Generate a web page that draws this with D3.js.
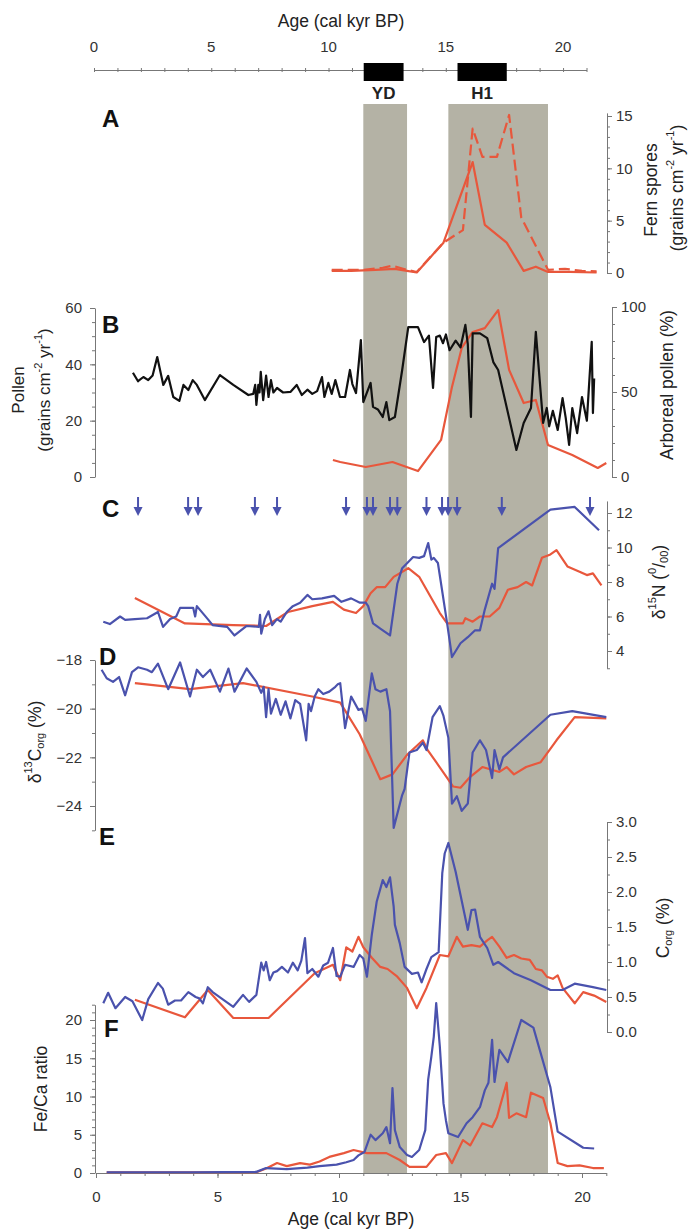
<!DOCTYPE html>
<html>
<head>
<meta charset="utf-8">
<script src="https://cdn.jsdelivr.net/npm/d3@7"></script>
<style>
  body { margin: 0; background: #fff; }
  svg { font-family: "Liberation Sans", Arial, sans-serif; }
  .tick text { fill: #333; font-size: 15px; }
  .domain, .tick line { stroke: #777; }
</style>
</head>
<body>
<div id="chart"></div>
<script>
// ---- data (age in cal kyr BP, value) ----
var fernSolid = [[9.7,0.2],[10.5,0.2],[11.5,0.3],[12.3,0.4],[12.8,0.2],[13.2,0.05],[14.3,2.9],[15.5,10.6],
  [16.0,4.6],[16.9,2.9],[17.6,0.2],[18.1,0.6],[18.6,0.1],[19.5,0.1],[20.6,0.05]];
var fernDashed = [[9.7,0.3],[11.0,0.3],[11.8,0.5],[12.2,0.7],[12.8,0.3],[13.2,0.1],[14.3,2.9],[15.1,4.1],
  [15.5,13.8],[15.9,11.1],[16.5,11.1],[17.0,15.1],[17.5,5.3],[18.6,0.3],[19.3,0.4],[20.0,0.2],[20.6,0.15]];

var pollen = [[1.52,37],[1.73,34],[1.95,35.5],[2.15,34.4],[2.33,36],[2.52,42.6],[2.77,32.7],[2.97,35.9],
  [3.18,28.4],[3.43,27],[3.6,32.7],[3.8,30.9],[3.98,34.4],[4.15,32.7],[4.48,27.3],[5.1,36.2],[5.65,32.7],
  [6.27,29.1],[6.47,29.5],[6.55,32.7],[6.6,25.6],[6.68,32.7],[6.73,30],[6.78,37.3],[6.88,27.3],[7.0,36],
  [7.1,28.4],[7.2,34.4],[7.3,30],[7.45,31.6],[7.7,30],[8.0,30.2],[8.26,32.7],[8.47,29.1],[8.7,31],[8.9,29.5],
  [9.1,30.5],[9.3,35.5],[9.4,28.4],[9.56,33.4],[9.7,29.5],[9.85,34.4],[10.04,28.4],[10.25,28.4],[10.45,38],
  [10.55,33],[10.7,29.8],[10.9,48.6],[11.0,26.6],[11.3,33.4],[11.4,24.9],[11.6,24],[11.8,21.3],[11.95,26.6],
  [12.07,20.2],[12.3,21.3],[12.6,38],[12.85,53.2],[13.25,53.2],[13.5,47.9],[13.7,50.2],[13.87,31.6],
  [14.0,49.7],[14.15,50.2],[14.28,47.5],[14.4,50.6],[14.55,45],[14.8,48.4],[15.0,46],[15.2,54],[15.3,47.3],
  [15.43,21.3],[15.5,51],[15.8,51],[16.1,49.3],[16.35,40.8],[16.55,38],[17.3,9.6],[17.6,19.2],[17.9,24.5],
  [18.1,51.5],[18.4,19.2],[18.55,24.5],[18.65,18],[18.8,23.5],[19.0,16.7],[19.2,28],[19.33,21],[19.47,11.4],
  [19.6,24.5],[19.8,15.6],[20.0,28.4],[20.2,20],[20.4,48],[20.45,22.7],[20.5,35]];
var arboreal = [[9.75,10],[10.05,8.8],[11.1,5.9],[12.2,8.8],[13.25,3.5],[14.2,21.8],[14.65,53],[15.05,75.9],
  [15.5,85.3],[16.0,87.6],[16.55,98.2],[17.0,63],[17.6,43.5],[18.1,45.3],[18.6,18.8],[19.6,12.9],
  [20.65,5.3],[21.0,8.2]];

var datingAges = [1.73,3.79,4.2,6.54,7.45,10.29,11.15,11.4,12.1,12.4,13.6,14.24,14.49,14.86,16.7,20.33];
var n15Blue = [[0.3,5.7],[0.57,5.56],[0.99,6.0],[1.2,5.8],[1.6,5.85],[2.1,5.9],[2.55,6.26],[2.76,5.4],
  [3.05,5.85],[3.3,6.0],[3.46,6.5],[4.0,6.5],[4.08,6.0],[4.15,6.6],[4.6,5.85],[4.8,5.5],[5.4,5.4],[5.7,4.9],
  [6.2,5.45],[6.7,5.4],[6.75,6.1],[6.8,5.0],[6.95,5.85],[7.1,6.3],[7.25,5.5],[7.45,5.85],[7.6,5.7],[7.85,6.26],
  [8.1,6.6],[8.4,6.8],[8.7,7.25],[8.9,7.0],[9.3,7.05],[9.8,7.2],[10.1,6.85],[10.5,7.05],[10.86,6.8],
  [11.1,6.8],[11.2,6.6],[11.4,5.6],[11.7,5.3],[12.1,4.9],[12.25,6.4],[12.4,7.9],[12.6,8.8],[13.05,9.45],
  [13.3,9.4],[13.5,9.5],[13.67,10.26],[13.8,9.3],[13.9,9.4],[14.07,9.1],[14.45,5.6],[14.65,3.65],[15.0,4.45],
  [15.3,4.8],[15.6,5.2],[15.8,5.2],[16.0,6.4],[16.3,7.9],[16.4,7.6],[16.55,9.97],[18.7,12.2],[19.7,12.35],
  [20.7,11.0]];
var n15Red = [[1.6,7.07],[3.66,5.6],[5.65,5.5],[7.0,5.45],[7.9,6.26],[8.9,6.6],[9.75,6.85],[10.2,6.4],
  [10.7,6.2],[11.0,6.6],[11.3,7.35],[11.55,7.7],[11.9,7.7],[12.25,8.3],[12.85,8.8],[13.3,8.3],[14.15,6.2],
  [14.45,5.6],[15.1,5.6],[15.2,5.9],[15.5,5.7],[15.8,6.0],[16.2,6.0],[16.6,6.5],[16.95,7.55],[17.35,7.7],
  [17.7,8.0],[17.95,7.8],[18.35,9.4],[18.7,9.6],[18.95,9.85],[19.4,8.9],[19.9,8.6],[20.2,8.4],[20.45,8.5],
  [20.8,7.8]];

var c13Blue = [[0.23,-18.4],[0.44,-18.75],[0.7,-18.9],[0.95,-18.7],[1.2,-19.45],[1.48,-18.5],[1.73,-18.3],
  [2.1,-18.4],[2.3,-18.5],[2.55,-18.15],[2.97,-19.2],[3.46,-18.1],[3.87,-19.5],[4.15,-18.4],[4.4,-18.7],
  [4.7,-18.4],[5.1,-19.3],[5.45,-18.35],[5.7,-19.3],[6.2,-18.35],[6.6,-18.9],[6.8,-19.35],[6.9,-19.1],
  [7.0,-20.35],[7.1,-19.2],[7.2,-20.2],[7.4,-19.6],[7.6,-20.25],[7.8,-19.7],[8.0,-20.4],[8.2,-19.65],
  [8.4,-19.8],[8.65,-21.3],[8.75,-19.8],[8.85,-20.1],[9.0,-19.5],[9.15,-19.2],[9.35,-19.4],[9.6,-19.3],
  [9.85,-19.1],[9.95,-19.0],[10.05,-18.95],[10.25,-20.8],[10.5,-19.5],[10.8,-20.05],[10.95,-20.0],
  [11.1,-20.5],[11.35,-18.55],[11.5,-19.2],[11.7,-19.3],[11.95,-19.2],[12.1,-20.1],[12.25,-24.9],
  [12.6,-23.55],[12.7,-23.3],[12.9,-21.8],[13.2,-21.7],[13.45,-21.4],[13.6,-21.7],[13.85,-20.35],
  [14.15,-19.9],[14.3,-20.3],[14.5,-21.2],[14.65,-23.9],[14.85,-23.6],[15.05,-24.2],[15.3,-23.9],
  [15.5,-21.8],[15.8,-21.3],[16.05,-21.7],[16.3,-22.85],[16.4,-21.7],[16.6,-22.5],[16.75,-22.0],
  [18.7,-20.25],[19.6,-20.1],[21.0,-20.35]];
var c13Red = [[1.6,-18.95],[3.87,-19.2],[6.05,-18.95],[8.9,-19.5],[10.05,-19.75],[10.85,-21.05],
  [11.7,-22.9],[12.2,-22.7],[12.8,-21.9],[13.45,-21.3],[13.65,-21.7],[14.0,-22.2],[14.7,-23.2],
  [15.0,-23.25],[15.4,-22.8],[15.9,-22.4],[16.6,-22.6],[16.9,-22.4],[17.2,-22.7],[17.7,-22.4],
  [18.3,-22.2],[18.95,-21.3],[19.7,-20.35],[21.0,-20.4]];

var corgBlue = [[0.3,0.41],[0.5,0.56],[0.8,0.34],[1.2,0.5],[1.5,0.44],[1.9,0.17],[2.15,0.47],[2.55,0.7],
  [2.75,0.62],[2.97,0.39],[3.25,0.45],[3.5,0.45],[3.8,0.57],[4.1,0.5],[4.25,0.48],[4.4,0.41],[4.6,0.64],
  [4.8,0.57],[5.65,0.36],[6.05,0.53],[6.3,0.43],[6.6,0.53],[6.8,0.99],[6.9,0.88],[7.0,1.0],[7.15,0.74],
  [7.3,0.85],[7.45,0.87],[7.65,0.93],[7.9,0.85],[8.1,0.99],[8.3,0.88],[8.45,1.02],[8.6,1.34],[8.7,0.84],
  [8.9,0.9],[9.15,0.79],[9.35,0.95],[9.55,0.99],[9.75,1.2],[9.9,0.8],[10.05,0.79],[10.25,0.96],[10.6,0.93],
  [10.85,1.1],[11.0,1.05],[11.15,0.79],[11.35,1.39],[11.55,1.86],[11.8,2.17],[11.95,2.07],[12.1,2.21],
  [12.25,1.79],[12.3,1.53],[12.5,1.27],[12.7,0.93],[13.0,0.83],[13.25,0.85],[13.4,0.71],[13.6,0.9],
  [13.8,1.07],[14.1,1.14],[14.25,2.27],[14.35,2.55],[14.5,2.7],[14.8,2.29],[15.3,1.46],[15.45,1.74],
  [15.6,1.75],[15.8,1.36],[16.1,1.2],[16.35,0.96],[16.55,1.0],[17.2,0.84],[17.9,0.74],[18.7,0.6],
  [19.2,0.6],[19.7,0.69],[20.45,0.64],[21.0,0.6]];
var corgRed = [[1.6,0.46],[3.66,0.21],[4.6,0.6],[5.65,0.2],[7.1,0.2],[9.0,0.84],[9.75,0.96],[10.05,0.74],
  [10.3,1.21],[10.55,1.15],[10.8,1.36],[11.0,1.21],[11.35,1.06],[11.7,0.93],[12.0,0.9],[12.4,0.79],
  [12.8,0.63],[13.2,0.34],[13.6,0.63],[14.15,1.1],[14.5,1.08],[14.85,1.36],[15.1,1.22],[15.45,1.24],
  [15.8,1.22],[16.1,1.31],[16.3,1.36],[16.6,1.22],[16.9,1.06],[17.2,1.1],[17.5,1.05],[17.85,1.03],
  [18.1,0.9],[18.35,0.88],[18.55,0.79],[18.8,0.76],[19.0,0.81],[19.2,0.63],[19.7,0.41],[20.05,0.57],
  [20.5,0.52],[21.0,0.43]];

var fecaBlue = [[0.44,0.1],[2.0,0.1],[4.0,0.1],[6.6,0.15],[7.0,0.65],[7.85,0.5],[8.7,0.7],[9.2,0.9],
  [9.9,1.1],[10.3,1.4],[10.6,1.7],[10.8,2.3],[11.05,2.75],[11.3,5.0],[11.5,4.3],[11.8,5.2],[11.95,6.0],
  [12.1,3.9],[12.2,11.1],[12.3,5.6],[12.5,3.4],[12.8,2.35],[13.0,2.1],[13.3,3.0],[13.55,5.6],[13.67,12.2],
  [13.8,15.2],[13.9,17.8],[14.0,22.2],[14.15,16.5],[14.3,9.1],[14.4,6.9],[14.5,5.2],[14.9,4.7],[15.25,6.5],
  [15.5,7.3],[15.8,8.6],[16.0,10.8],[16.15,11.8],[16.3,17.4],[16.4,11.9],[16.6,16.1],[16.95,14.5],
  [17.5,20.0],[18.0,19.0],[18.7,11.2],[19.0,5.4],[20.05,3.3],[20.5,3.2]];
var fecaRed = [[0.44,0.1],[3.0,0.1],[6.6,0.1],[7.0,0.6],[7.45,1.3],[7.85,0.9],[8.4,1.3],[8.8,1.1],
  [9.2,1.5],[9.6,2.1],[10.2,2.6],[10.6,3.0],[11.15,2.6],[11.95,2.6],[12.5,1.7],[12.9,0.8],[13.6,0.8],
  [14.0,2.35],[14.4,2.6],[14.65,1.3],[15.1,4.3],[15.4,3.6],[15.9,6.5],[16.3,6.0],[16.5,7.3],[16.9,11.8],
  [17.0,7.2],[17.3,7.8],[17.7,7.3],[17.9,10.5],[18.4,9.8],[18.7,6.5],[19.0,1.3],[19.4,0.9],[19.9,1.0],
  [20.45,0.65],[20.9,0.65]];

var ydBand = [11.0, 12.8];
var h1Band = [14.5, 18.6];
var ydBar = [11.5, 13.2];
var h1Bar = [15.5, 17.6];

// ---- layout ----
var svgWidth = 690;
var svgHeight = 1230;
var BLUE = "#4a52ad";
var RED = "#e8573c";
var BAND = "#b4b2a5";
var TITLE = "17.5px";

var svg = d3.select("#chart").append("svg")
  .attr("width", svgWidth)
  .attr("height", svgHeight);

// x scales: the top axis is drawn slightly narrower than the bottom one
var x = d3.scaleLinear().domain([0, 21]).range([96, 606.3]);
var xTop = d3.scaleLinear().domain([0, 21]).range([94, 586.5]);

// y scales
var yA = d3.scaleLinear().domain([0, 15]).range([273, 116]);
var yBl = d3.scaleLinear().domain([0, 60]).range([477, 308]);
var yBr = d3.scaleLinear().domain([0, 100]).range([477, 307]);
var yC = d3.scaleLinear().domain([4, 12]).range([651, 513]);
var yD = d3.scaleLinear().domain([-24, -18]).range([806, 660]);
var yE = d3.scaleLinear().domain([0, 3]).range([1032, 822]);
var yF = d3.scaleLinear().domain([0, 20]).range([1173, 1020]);

function extend(s, lo, hi) {
  return s.copy().domain([lo, hi]).range([s(lo), s(hi)]);
}

// shaded intervals
[ydBand, h1Band].forEach(function (b) {
  svg.append("rect")
    .attr("x", x(b[0]))
    .attr("width", x(b[1]) - x(b[0]))
    .attr("y", 104)
    .attr("height", 1173 - 104)
    .attr("fill", BAND);
});

// top axis
var topAxis = svg.append("g")
  .attr("transform", "translate(0,70)")
  .call(d3.axisBottom(xTop).tickValues(d3.range(0, 22, 1)).tickSize(3).tickSizeOuter(0).tickFormat(""));
topAxis.selectAll(".tick line").attr("y1", -2).attr("y2", 2);
svg.append("g")
  .selectAll("text")
  .data([0, 5, 10, 15, 20])
  .enter()
  .append("text")
  .attr("x", d => xTop(d))
  .attr("y", 52)
  .attr("text-anchor", "middle")
  .style("font-size", "15px")
  .attr("fill", "#333")
  .text(d => d);
svg.append("text")
  .attr("x", 341).attr("y", 27)
  .attr("text-anchor", "middle")
  .style("font-size", TITLE)
  .attr("fill", "#222")
  .text("Age (cal kyr BP)");

[[ydBar, "YD"], [h1Bar, "H1"]].forEach(function (b) {
  svg.append("rect")
    .attr("x", xTop(b[0][0]))
    .attr("width", xTop(b[0][1]) - xTop(b[0][0]))
    .attr("y", 63)
    .attr("height", 18)
    .attr("fill", "#000");
  svg.append("text")
    .attr("x", (xTop(b[0][0]) + xTop(b[0][1])) / 2)
    .attr("y", 99)
    .attr("text-anchor", "middle")
    .style("font-size", "17px")
    .style("font-weight", "bold")
    .attr("fill", "#222")
    .text(b[1]);
});

// axis helper: major + minor ticks
function yAxis(side, xpos, scale, majors, minors, fmt) {
  var mk = side === "left" ? d3.axisLeft : d3.axisRight;
  var g = svg.append("g").attr("transform", "translate(" + xpos + ",0)");
  g.call(mk(scale).tickValues(minors).tickSize(3).tickSizeOuter(0).tickFormat(""));
  g.append("g").call(mk(scale).tickValues(majors).tickSize(5)
      .tickPadding(side === "left" ? 8 : 4).tickSizeOuter(0).tickFormat(fmt || d3.format("")))
    .select(".domain").remove();
  return g;
}

yAxis("right", 607, extend(yA, 0, 15.3), [0, 5, 10, 15], d3.range(0, 16, 1));
yAxis("left", 95, yBl, [0, 20, 40, 60], d3.range(0, 61, 5));
yAxis("right", 612, yBr, [0, 50, 100], d3.range(0, 101, 10));
yAxis("right", 607, extend(yC, 3, 12.7), [4, 6, 8, 10, 12], d3.range(3, 13, 1));
yAxis("left", 95, extend(yD, -25, -18), [-24, -22, -20, -18], d3.range(-25, -17, 1));
yAxis("right", 607, yE, [0, 0.5, 1, 1.5, 2, 2.5, 3], d3.range(0, 3.01, 0.25), d3.format(".1f"));
yAxis("left", 95, extend(yF, 0, 22), [0, 5, 10, 15, 20], d3.range(0, 23, 1));

// bottom axis
svg.append("g")
  .attr("transform", "translate(0,1173)")
  .call(d3.axisBottom(x).tickValues(d3.range(0, 22, 1)).tickSize(3).tickSizeOuter(0).tickFormat(""));
svg.append("g")
  .attr("transform", "translate(0,1173)")
  .call(d3.axisBottom(x).tickValues([0, 5, 10, 15, 20]).tickSize(5).tickPadding(13))
  .select(".domain").remove();
svg.append("text")
  .attr("x", 351).attr("y", 1225)
  .attr("text-anchor", "middle")
  .style("font-size", TITLE)
  .attr("fill", "#222")
  .text("Age (cal kyr BP)");

// lines
function draw(data, yScale, color, dash) {
  svg.append("path")
    .datum(data)
    .attr("fill", "none")
    .attr("stroke", color)
    .attr("stroke-width", 2.2)
    .attr("stroke-linejoin", "round")
    .attr("stroke-dasharray", dash || null)
    .attr("d", d3.line().x(d => x(d[0])).y(d => yScale(d[1])));
}

draw(fernDashed, yA, RED, "11,5");
draw(fernSolid, yA, RED);
draw(arboreal, yBr, RED);
draw(pollen, yBl, "#111");
draw(n15Red, yC, RED);
draw(n15Blue, yC, BLUE);
draw(c13Red, yD, RED);
draw(c13Blue, yD, BLUE);
draw(corgRed, yE, RED);
draw(corgBlue, yE, BLUE);
draw(fecaRed, yF, RED);
draw(fecaBlue, yF, BLUE);

// dating arrows
var arrows = svg.append("g").attr("fill", BLUE).attr("stroke", BLUE);
datingAges.forEach(function (a) {
  var ax = x(a);
  arrows.append("line")
    .attr("x1", ax).attr("x2", ax)
    .attr("y1", 497).attr("y2", 510)
    .attr("stroke-width", 2);
  arrows.append("path")
    .attr("stroke", "none")
    .attr("d", "M" + (ax - 4.5) + ",507 L" + (ax + 4.5) + ",507 L" + ax + ",516 Z");
});

// panel letters
[["A", 102, 127], ["B", 102, 333], ["C", 102, 517], ["D", 99, 665], ["E", 99, 845], ["F", 104, 1037]]
  .forEach(function (p) {
    svg.append("text")
      .attr("x", p[1]).attr("y", p[2])
      .style("font-size", "24px")
      .style("font-weight", "bold")
      .attr("fill", "#111")
      .text(p[0]);
  });

// rotated axis titles
function vlabel(cx, cy, parts, size) {
  var t = svg.append("text")
    .attr("transform", "translate(" + cx + "," + cy + ") rotate(-90)")
    .attr("text-anchor", "middle")
    .attr("dominant-baseline", "middle")
    .style("font-size", size || TITLE)
    .attr("fill", "#222");
  parts.forEach(function (p) {
    var s = t.append("tspan").text(p[0]);
    if (p[1] === "sup") s.attr("dy", -7).style("font-size", "11px");
    if (p[1] === "sub") s.attr("dy", 5).style("font-size", "11px");
    if (p[1] === "back") s.attr("dy", 7);
    if (p[1] === "up") s.attr("dy", -5);
  });
}

vlabel(652, 190, [["Fern spores"]]);
vlabel(678, 188, [["(grains cm"], ["-2", "sup"], [" yr", "back"], ["-1", "sup"], [")", "back"]]);
vlabel(20, 390, [["Pollen"]], "17px");
vlabel(46, 390, [["(grains cm"], ["-2", "sup"], [" yr", "back"], ["-1", "sup"], [")", "back"]], "17px");
vlabel(668, 385, [["Arboreal pollen (%)"]]);
vlabel(660, 582, [["δ"], ["15", "sup"], ["N (", "back"], ["0", "sup"], ["/", "back"], ["00", "sub"], [")", "up"]]);
vlabel(36, 742, [["δ"], ["13", "sup"], ["C", "back"], ["org", "sub"], [" (%)", "up"]]);
vlabel(664, 928, [["C"], ["org", "sub"], [" (%)", "up"]]);
vlabel(42, 1089, [["Fe/Ca ratio"]]);
</script>
</body>
</html>
